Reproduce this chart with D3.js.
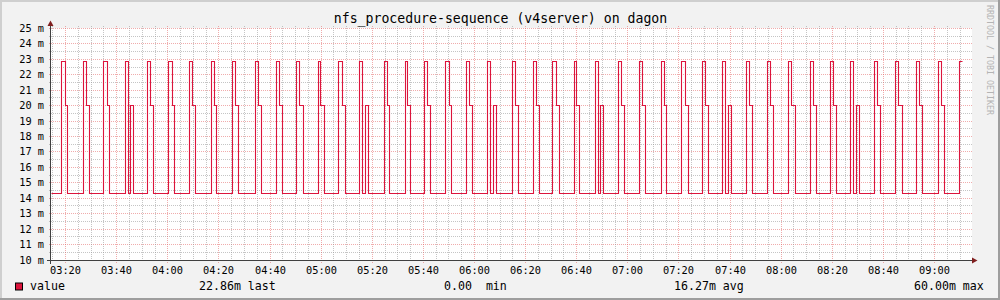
<!DOCTYPE html>
<html><head><meta charset="utf-8">
<script src="https://cdn.jsdelivr.net/npm/d3@7"></script>
<style>
body{margin:0;background:#f2f2f2}
text{font-family:"DejaVu Sans Mono",monospace;white-space:pre}
</style>
</head><body><svg id="c" width="1000" height="300"></svg>
<script>
// ---- data ----
const chartTitle = "nfs_procedure-sequence (v4server) on dagon";
const sideText = "RRDTOOL / TOBI OETIKER";
const yTickValues = [10,11,12,13,14,15,16,17,18,19,20,21,22,23,24,25];
const yTickLabels = ["10 m","11 m","12 m","13 m","14 m","15 m","16 m","17 m","18 m","19 m","20 m","21 m","22 m","23 m","24 m","25 m"];
const xTickLabels = ["03:20","03:40","04:00","04:20","04:40","05:00","05:20","05:40","06:00","06:20","06:40","07:00","07:20","07:40","08:00","08:20","08:40","09:00"];
// minutes after 03:00 where the value changes
const stepMinutes = [
 14.5,
 18.41,19.86,20.88, 26.90,28.08,29.25, 34.97,36.30,37.31, 43.34,44.51,45.41,46.59,
 52.18,53.36,54.53, 60.40,61.73,62.75, 68.50,69.79,70.85, 76.99,78.17,79.18,
 85.21,86.42,87.48, 94.44,95.62,96.79, 102.66,103.72,104.89, 110.49,111.66,112.99,
 118.86,119.88,121.21, 126.92,128.25,129.42, 135.14,136.31,137.49,138.66,
 144.68,145.86,146.87, 152.90,153.92,155.09, 160.45,161.63,162.92, 168.79,170.12,171.14,
 176.89,178.06,179.24, 185.22,186.40,187.57,188.75, 194.77,195.95,197.12,
 202.99,204.17,205.34, 210.66,211.99,213.17, 219.03,220.05,221.22, 227.25,228.42,229.44,230.62,
 236.49,237.66,238.83, 244.70,245.88,247.05, 253.08,254.25,255.27, 261.14,262.47,263.64,
 269.12,270.29,271.47, 277.18,278.35,279.53,280.70, 286.57,287.74,288.92,
 294.79,295.96,297.13, 303.00,304.18,305.51, 311.38,312.55,313.73, 319.20,320.38,321.55,
 327.27,328.52,329.69,330.79, 336.66,337.83,339.01, 344.88,346.05,347.38,
 353.09,354.26,355.44, 361.46,362.64,363.81, 369.68,370.85
];
// value (milli) from that minute on
const stepValues = [
 14.29,
 22.86,20,14.29, 22.86,20,14.29, 22.86,20,14.29, 22.86,14.29,20,14.29,
 22.86,20,14.29, 22.86,20,14.29, 22.86,20,14.29, 22.86,20,14.29,
 22.86,20,14.29, 22.86,20,14.29, 22.86,20,14.29, 22.86,20,14.29,
 22.86,20,14.29, 22.86,20,14.29, 22.86,14.29,20,14.29,
 22.86,20,14.29, 22.86,20,14.29, 22.86,20,14.29, 22.86,20,14.29,
 22.86,20,14.29, 22.86,14.29,20,14.29, 22.86,20,14.29,
 22.86,20,14.29, 22.86,20,14.29, 22.86,20,14.29, 22.86,14.29,20,14.29,
 22.86,20,14.29, 22.86,20,14.29, 22.86,20,14.29, 22.86,20,14.29,
 22.86,20,14.29, 22.86,14.29,20,14.29, 22.86,20,14.29,
 22.86,20,14.29, 22.86,20,14.29, 22.86,20,14.29, 22.86,20,14.29,
 22.86,14.29,20,14.29, 22.86,20,14.29, 22.86,20,14.29,
 22.86,20,14.29, 22.86,20,14.29, 22.86,22.86
];
const legendName = "value";
const legendStats = ["22.86m last", "0.00  min", "16.27m avg", "60.00m max"];

// ---- drawing ----
const svg = d3.select("#c");
const W = 1000, H = 300;
const base = new Date(2020,0,1,3,0,0);
const toDate = m => new Date(base.getTime() + m*60000);
const x = d3.scaleTime().domain([toDate(14.5), toDate(374.5)]).range([51, 971]);
const y = d3.scaleLinear().domain([10,25]).range([260, 28.5]);
const sx = v => Math.round(v) + 0.5;
const sy = v => Math.floor(v) + 0.5;
const col = "#dc143c";
const gridCol = "rgba(150,150,150,0.55)";
const mgridCol = "rgba(225,90,90,0.5)";

// background & shade border
svg.append("rect").attr("width",W).attr("height",H).attr("fill","#f2f2f2");
svg.append("rect").attr("x",0).attr("y",0).attr("width",W).attr("height",2).attr("fill","#cfcfcf");
svg.append("rect").attr("x",0).attr("y",0).attr("width",2).attr("height",H).attr("fill","#cfcfcf");
svg.append("rect").attr("x",0).attr("y",H-2).attr("width",W).attr("height",2).attr("fill","#9e9e9e");
svg.append("rect").attr("x",W-2).attr("y",0).attr("width",2).attr("height",H).attr("fill","#9e9e9e");
// canvas
svg.append("rect").attr("x",51).attr("y",sy(y(25))-0.5).attr("width",921).attr("height",sy(y(10))-sy(y(25)))
  .attr("fill","#ffffff");

const gGrid = svg.append("g").attr("stroke-dasharray","1,1").attr("stroke-width",1).attr("fill","none");
// horizontal grid
const yMinor = d3.range(10.5, 25, 1);
gGrid.selectAll("line.hmin").data(yMinor).join("line")
  .attr("x1",49).attr("x2",972).attr("y1",d=>sy(y(d))).attr("y2",d=>sy(y(d)))
  .attr("stroke",gridCol);
gGrid.selectAll("line.hmaj").data(yTickValues.slice(1)).join("line")
  .attr("x1",49).attr("x2",972).attr("y1",d=>sy(y(d))).attr("y2",d=>sy(y(d)))
  .attr("stroke",mgridCol);
// vertical grid
const minorTimes = x.ticks(d3.timeMinute.every(5)).filter(d => d.getMinutes()%20 !== 0 && x(d) > 52 && x(d) < 971);
const majorTimes = x.ticks(d3.timeMinute.every(20));
gGrid.selectAll("line.vmin").data(minorTimes).join("line")
  .attr("x1",d=>sx(x(d))).attr("x2",d=>sx(x(d))).attr("y1",26).attr("y2",262)
  .attr("stroke",gridCol);
gGrid.selectAll("line.vmaj").data(majorTimes).join("line")
  .attr("x1",d=>sx(x(d))).attr("x2",d=>sx(x(d))).attr("y1",26).attr("y2",263)
  .attr("stroke",mgridCol);

// axes
const ax = "#404040";
svg.append("line").attr("x1",47).attr("x2",972).attr("y1",sy(y(10))).attr("y2",sy(y(10))).attr("stroke",ax);
svg.append("line").attr("x1",50.5).attr("x2",50.5).attr("y1",264).attr("y2",25).attr("stroke",ax);
svg.append("path").attr("d","M47.5,26L53.5,26L50.5,20.5Z").attr("fill","#801f1f");
const ay = sy(y(10));
svg.append("path").attr("d",`M972,${ay-3}L972,${ay+3}L977.5,${ay}Z`).attr("fill","#801f1f");

// y labels
svg.selectAll("text.yl").data(yTickValues).join("text")
  .attr("x",44).attr("y",d=>sy(y(d))+3.6).attr("text-anchor","end")
  .attr("font-size","10.3px").attr("fill","#000")
  .text((d,i)=>yTickLabels[i]);
// x labels
svg.selectAll("text.xl").data(majorTimes).join("text")
  .attr("x",d=>sx(x(d))).attr("y",273.5).attr("text-anchor","middle")
  .attr("font-size","10.3px").attr("fill","#000")
  .text((d,i)=>xTickLabels[i]);

// data line
const pts = stepMinutes.map((m,i)=>({t:toDate(m), v:stepValues[i]}));
const line = d3.line().x(d=>sx(x(d.t))).y(d=>sy(y(d.v))).curve(d3.curveStepAfter);
svg.append("path").datum(pts).attr("d",line).attr("fill","none").attr("stroke",col).attr("stroke-width",1.1);

// title
svg.append("text").attr("x",500.5).attr("y",23).attr("text-anchor","middle")
  .attr("font-size","13.2px").attr("fill","#000").text(chartTitle);
// side text
svg.append("text").attr("transform","translate(987,5) rotate(90)")
  .attr("font-size","8.3px").attr("fill","#b4b4b4").text(sideText);

// legend
svg.append("rect").attr("x",15.5).attr("y",283).attr("width",7).attr("height",7)
  .attr("fill",col).attr("stroke","#000");
svg.append("text").attr("x",30).attr("y",290).attr("font-size","11.6px").attr("fill","#000").text(legendName);
const legX = [199, 444, 674, 914];
svg.selectAll("text.leg").data(legendStats).join("text")
  .attr("x",(d,i)=>legX[i]).attr("y",290).attr("font-size","11.6px").attr("fill","#000").text(d=>d);
</script></body></html>
